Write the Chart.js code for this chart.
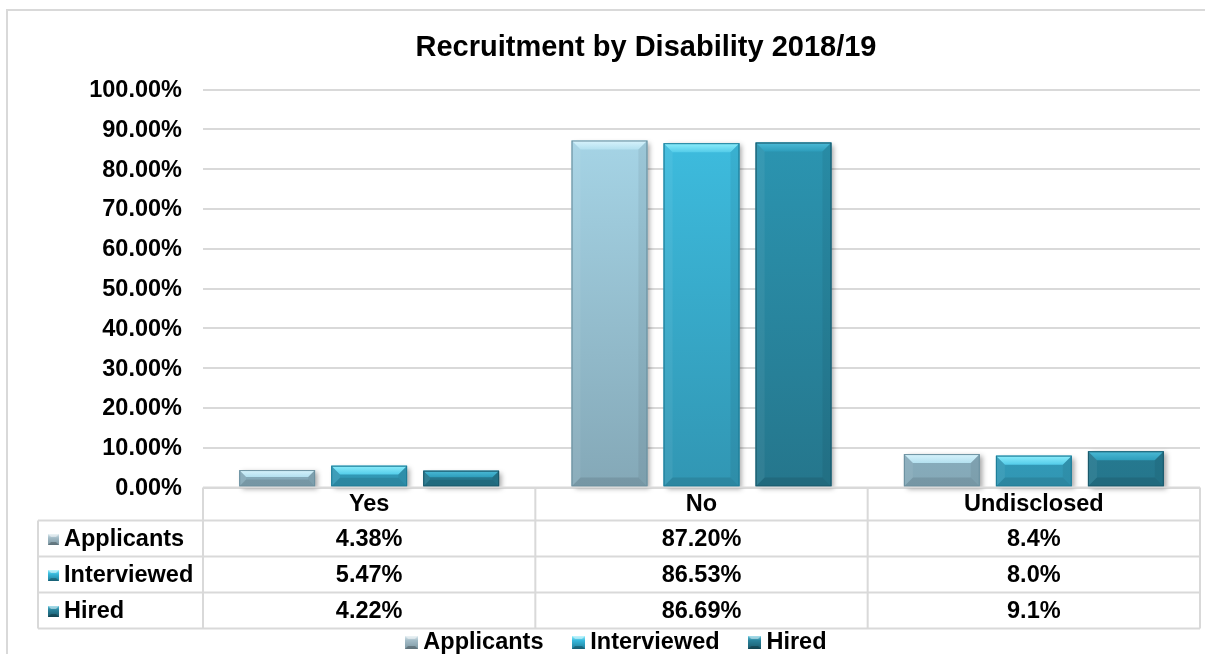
<!DOCTYPE html>
<html>
<head>
<meta charset="utf-8">
<title>Recruitment by Disability 2018/19</title>
<script src="https://cdn.jsdelivr.net/npm/chart.js@4.4.1/dist/chart.umd.min.js"></script>
<style>
  html, body { margin: 0; padding: 0; background: #ffffff; }
  #wrap { width: 1205px; height: 654px; position: relative; overflow: hidden; }
  canvas { display: block; }
</style>
</head>
<body>
<div id="wrap"><canvas id="chart" width="1205" height="654"></canvas></div>
<script>
// ---- data ----
const categories = ['Yes', 'No', 'Undisclosed'];
const seriesNames = ['Applicants', 'Interviewed', 'Hired'];
const applicantsPct = [4.38, 87.20, 8.4];
const interviewedPct = [5.47, 86.53, 8.0];
const hiredPct = [4.22, 86.69, 9.1];
const applicantsText = ['4.38%', '87.20%', '8.4%'];
const interviewedText = ['5.47%', '86.53%', '8.0%'];
const hiredText = ['4.22%', '86.69%', '9.1%'];
const yTicks = [0, 10, 20, 30, 40, 50, 60, 70, 80, 90, 100];

// ---- styling ----
const FONT = "'Liberation Sans', Arial, Helvetica, sans-serif";
const LABEL_SIZE = 23.5;
const GRID = '#d9d9d9';
const palette = [
  { top: '#aadaec', bottom: '#84a8b7', edge: '#6b909f', bevelTop: '#d8f3fc', bevelBottom: '#b3e0ef', key: '#a3bcc7', keyLight: '#dbe9ef', keyDark: '#7e98a4' },
  { top: '#3fc1e4', bottom: '#3196b3', edge: '#1d7c97', bevelTop: '#8eeefc', bevelBottom: '#54cce9', key: '#38b9dc', keyLight: '#8eeefc', keyDark: '#1f7f9b' },
  { top: '#2c99b6', bottom: '#25768c', edge: '#195769', bevelTop: '#4cbbd7', bevelBottom: '#2d9dbb', key: '#2a839c', keyLight: '#5cc3dc', keyDark: '#1a5a6c' }
];

const TABLE = { left: 38, headerH: 33, rowH: 36, keyX: 48, textX: 64, keySize: 11 };
const LEGEND_DX = 19;
const TITLE_DX = 46;

// small bevelled square used as a series key
function makeKey(c, size) {
  const cv = document.createElement('canvas');
  cv.width = size; cv.height = size;
  const k = cv.getContext('2d');
  const g = k.createLinearGradient(0, 0, 0, size);
  g.addColorStop(0, c.keyLight); g.addColorStop(0.35, c.key); g.addColorStop(1, c.keyDark);
  k.fillStyle = g; k.fillRect(0, 0, size, size);
  const s = Math.round(size * 0.25);
  k.fillStyle = 'rgba(255,255,255,0.45)';
  k.beginPath(); k.moveTo(0, 0); k.lineTo(size, 0); k.lineTo(size - s, s); k.lineTo(s, s); k.closePath(); k.fill();
  k.fillStyle = 'rgba(0,0,0,0.25)';
  k.beginPath(); k.moveTo(0, size); k.lineTo(s, size - s); k.lineTo(size - s, size - s); k.lineTo(size, size); k.closePath(); k.fill();
  return cv;
}
const legendKeys = palette.map(c => makeKey(c, 13));
const tableKeys = palette.map(c => makeKey(c, TABLE.keySize));

function barFill(i) {
  return ctx => {
    const c = palette[i];
    const area = ctx.chart.chartArea;
    if (ctx.type !== 'data' || !area) return c.key;
    const g = ctx.chart.ctx.createLinearGradient(0, area.top, 0, area.bottom);
    g.addColorStop(0, c.top); g.addColorStop(1, c.bottom);
    return g;
  };
}

function poly(ctx, pts) {
  ctx.beginPath();
  ctx.moveTo(pts[0][0], pts[0][1]);
  for (let i = 1; i < pts.length; i++) ctx.lineTo(pts[i][0], pts[i][1]);
  ctx.closePath(); ctx.fill();
}

function barRects(chart, cb) {
  chart.data.datasets.forEach((ds, di) => {
    const meta = chart.getDatasetMeta(di);
    meta.data.forEach(el => {
      const p = el.getProps(['x', 'y', 'base', 'width'], true);
      cb(p.x - p.width / 2, p.x + p.width / 2, Math.min(p.y, p.base), Math.max(p.y, p.base), palette[di]);
    });
  });
}

// white page with a light frame
const framePlugin = {
  id: 'frame',
  beforeDraw(chart) {
    const ctx = chart.ctx;
    ctx.save();
    ctx.fillStyle = '#ffffff';
    ctx.fillRect(0, 0, chart.width, chart.height);
    ctx.strokeStyle = GRID; ctx.lineWidth = 2;
    ctx.strokeRect(7, 10, chart.width + 20, chart.height + 20);
    ctx.restore();
  }
};

// soft shadow under the bars, then the bevelled faces on top
const bevelPlugin = {
  id: 'bevel',
  beforeDatasetsDraw(chart) {
    const ctx = chart.ctx;
    ctx.save();
    ctx.shadowColor = 'rgba(0,0,0,0.35)';
    ctx.shadowBlur = 5; ctx.shadowOffsetX = 3; ctx.shadowOffsetY = 2;
    barRects(chart, (l, r, t, b, c) => { ctx.fillStyle = c.bottom; ctx.fillRect(l, t, r - l, b - t); });
    ctx.restore();
  },
  afterDatasetsDraw(chart) {
    const ctx = chart.ctx;
    ctx.save();
    barRects(chart, (l, r, t, b, c) => {
      const h = b - t, w = r - l;
      const s = Math.min(9, h * 0.42, w * 0.3);
      const g = ctx.createLinearGradient(0, t, 0, t + s);
      g.addColorStop(0, c.bevelTop); g.addColorStop(1, c.bevelBottom);
      ctx.fillStyle = g;
      poly(ctx, [[l, t], [r, t], [r - s, t + s], [l + s, t + s]]);
      ctx.fillStyle = 'rgba(255,255,255,0.06)';
      poly(ctx, [[l, t], [l + s, t + s], [l + s, b - s], [l, b]]);
      ctx.fillStyle = 'rgba(0,0,0,0.06)';
      poly(ctx, [[r, t], [r, b], [r - s, b - s], [r - s, t + s]]);
      ctx.fillStyle = 'rgba(0,0,0,0.10)';
      poly(ctx, [[l, b], [l + s, b - s], [r - s, b - s], [r, b]]);
      ctx.strokeStyle = c.edge; ctx.lineWidth = 1;
      ctx.strokeRect(l + 0.5, t + 0.5, w - 1, h - 1);
    });
    ctx.restore();
  }
};

// value-axis labels, right-aligned against the plot
const yLabelPlugin = {
  id: 'yLabels',
  afterDraw(chart) {
    const { ctx, chartArea, scales: { y } } = chart;
    ctx.save();
    ctx.font = `bold ${LABEL_SIZE}px ${FONT}`;
    ctx.fillStyle = '#000';
    ctx.textAlign = 'right'; ctx.textBaseline = 'middle';
    y.ticks.forEach(t => {
      const py = y.getPixelForValue(t.value);
      ctx.fillText(t.value.toFixed(2) + '%', chartArea.left - 21, py + 1);
    });
    ctx.restore();
  }
};

// data table under the plot: category header row and one row per series
const tablePlugin = {
  id: 'dataTable',
  afterDraw(chart) {
    const { ctx, chartArea, scales: { x } } = chart;
    const colW = (chartArea.right - chartArea.left) / categories.length;
    const top = chartArea.bottom;
    const hdrBottom = top + TABLE.headerH;
    const bottom = hdrBottom + TABLE.rowH * seriesNames.length;
    const rowsText = [applicantsText, interviewedText, hiredText];
    ctx.save();
    ctx.strokeStyle = GRID; ctx.lineWidth = 2;
    ctx.beginPath();
    ctx.moveTo(chartArea.left, top); ctx.lineTo(chartArea.right, top);
    for (let r = 0; r <= seriesNames.length; r++) {
      const yy = hdrBottom + r * TABLE.rowH;
      ctx.moveTo(TABLE.left, yy); ctx.lineTo(chartArea.right, yy);
    }
    ctx.moveTo(TABLE.left, hdrBottom); ctx.lineTo(TABLE.left, bottom);
    categories.forEach((c, i) => {
      const edge = x.getPixelForValue(i) - colW / 2;
      ctx.moveTo(edge, top); ctx.lineTo(edge, bottom);
    });
    ctx.moveTo(chartArea.right, top); ctx.lineTo(chartArea.right, bottom);
    ctx.stroke();

    ctx.font = `bold ${LABEL_SIZE}px ${FONT}`;
    ctx.fillStyle = '#000';
    ctx.textBaseline = 'middle';
    ctx.textAlign = 'center';
    categories.forEach((c, i) => ctx.fillText(c, x.getPixelForValue(i), top + TABLE.headerH / 2 + 1));
    seriesNames.forEach((name, r) => {
      const cy = hdrBottom + r * TABLE.rowH + TABLE.rowH / 2 + 1;
      ctx.textAlign = 'center';
      rowsText[r].forEach((txt, i) => ctx.fillText(txt, x.getPixelForValue(i), cy));
      ctx.drawImage(tableKeys[r], TABLE.keyX, Math.round(cy - TABLE.keySize / 2));
      ctx.textAlign = 'left';
      ctx.fillText(name, TABLE.textX, cy);
    });
    ctx.restore();
  }
};

// nudge the title and legend blocks sideways after layout
const blockShift = {
  id: 'blockShift',
  afterLayout(chart) {
    if (chart.legend) { chart.legend.left += LEGEND_DX; chart.legend.right += LEGEND_DX; }
    if (chart.titleBlock) { chart.titleBlock.left += TITLE_DX; chart.titleBlock.right += TITLE_DX; }
  }
};

new Chart(document.getElementById('chart'), {
  type: 'bar',
  data: {
    labels: categories,
    datasets: [
      { label: seriesNames[0], data: applicantsPct, backgroundColor: barFill(0), borderWidth: 0 },
      { label: seriesNames[1], data: interviewedPct, backgroundColor: barFill(1), borderWidth: 0 },
      { label: seriesNames[2], data: hiredPct, backgroundColor: barFill(2), borderWidth: 0 }
    ]
  },
  options: {
    responsive: false,
    animation: false,
    devicePixelRatio: 1,
    categoryPercentage: 0.8306,
    barPercentage: 0.824,
    layout: { padding: { left: 0, right: 5, top: 0, bottom: -10.25 } },
    scales: {
      x: {
        ticks: { display: false },
        grid: { display: false },
        border: { display: false },
        afterFit(s) { s.height = 108.25; }
      },
      y: {
        min: 0, max: 100,
        afterBuildTicks(s) { s.ticks = yTicks.map(v => ({ value: v })); },
        ticks: { display: false },
        grid: { color: GRID, lineWidth: 2, drawTicks: false },
        border: { display: false },
        afterFit(s) { s.width = 203; }
      }
    },
    plugins: {
      title: {
        display: true,
        text: 'Recruitment by Disability 2018/19',
        color: '#000',
        font: { family: FONT, size: 29, weight: 'bold', lineHeight: 1.2 },
        padding: { top: 30.2, bottom: 24.6 }
      },
      legend: {
        position: 'bottom',
        labels: {
          usePointStyle: true,
          boxWidth: 0.1,
          boxHeight: LABEL_SIZE,
          padding: 35,
          color: '#000',
          font: { family: FONT, size: LABEL_SIZE, weight: 'bold' },
          generateLabels(chart) {
            const items = Chart.defaults.plugins.legend.labels.generateLabels(chart);
            items.forEach(it => { it.pointStyle = legendKeys[it.datasetIndex]; });
            return items;
          }
        }
      },
      tooltip: { enabled: false }
    }
  },
  plugins: [framePlugin, bevelPlugin, yLabelPlugin, tablePlugin, blockShift]
});
</script>
</body>
</html>
